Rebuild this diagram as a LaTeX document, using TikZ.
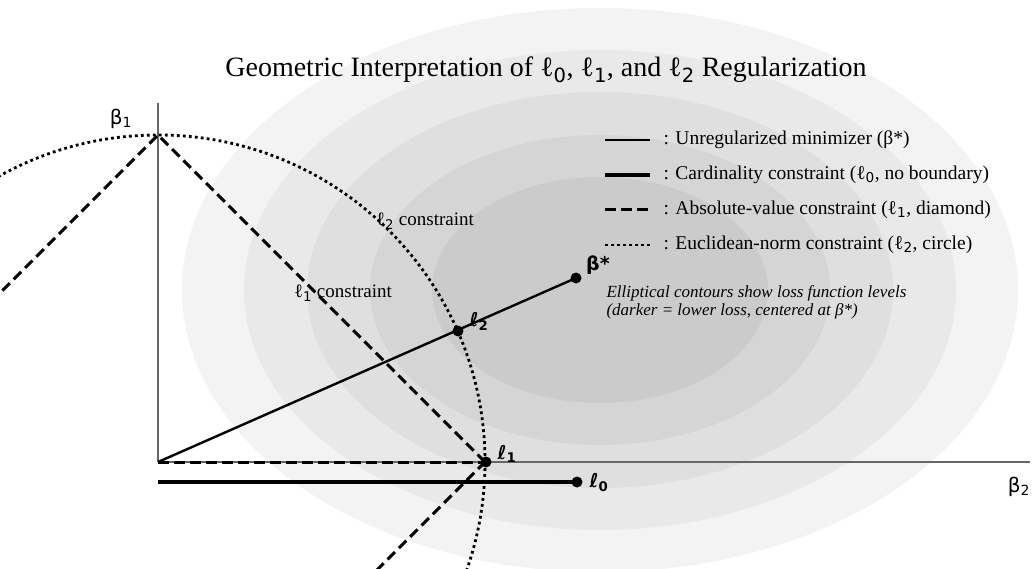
\documentclass[tikz,border=0pt]{standalone}
\usepackage{fontspec}
\setmainfont{Liberation Serif}
\newfontfamily\dejavu{DejaVu Sans}
\newcommand\lsub[1]{\textsubscript{\dejavu #1}}
\definecolor{ringa}{HTML}{F3F3F3}
\definecolor{ringb}{HTML}{E9E9E9}
\definecolor{ringc}{HTML}{DFDFDF}
\definecolor{ringd}{HTML}{D5D5D5}
\definecolor{ringe}{HTML}{CBCBCB}
\definecolor{axisgray}{HTML}{666666}
\begin{document}
\begin{tikzpicture}[x=1pt, y=-1pt,
  axisline/.style={draw=axisgray, line width=1.8pt},
  pathline/.style={draw=black, line width=2.4pt},
  zeroline/.style={draw=black, line width=3.2pt},
  diamondline/.style={draw=black, line width=3pt, dash pattern=on 10.5pt off 5.5pt},
  circleline/.style={draw=black, line width=2.8pt, dash pattern=on 2.8pt off 3.2pt},
  dotnode/.style={circle, fill=black, inner sep=0pt, minimum size=11pt},
  ptlabel/.style={font=\dejavu\bfseries\fontsize{19}{22}\selectfont},
  axlabel/.style={font=\dejavu\fontsize{20}{23}\selectfont},
  legtext/.style={anchor=west, font=\fontsize{19.5}{23}\selectfont},
  note/.style={anchor=west, align=left, font=\itshape\fontsize{17}{19}\selectfont}]
\useasboundingbox (0,0) rectangle (1034,569);
\clip (0,0) rectangle (1034,569);
\fill[ringa] (600,290) ellipse [x radius=418pt, y radius=282pt];
\fill[ringb] (600,290) ellipse [x radius=356pt, y radius=240pt];
\fill[ringc] (600,290) ellipse [x radius=293pt, y radius=198pt];
\fill[ringd] (600,290) ellipse [x radius=230pt, y radius=155pt];
\fill[ringe] (600,290) ellipse [x radius=168pt, y radius=113pt];
\node[font=\fontsize{28}{31}\selectfont] (title) at (546,70) {Geometric Interpretation of ℓ\lsub{0}, ℓ\lsub{1}, and ℓ\lsub{2} Regularization};
\coordinate (origin) at (158,462);
\coordinate (ytop) at (158,103);
\coordinate (xend) at (1030,462);
\coordinate (zerostart) at (158,482);
\draw[axisline] (origin) -- (ytop);
\draw[axisline] (origin) -- (xend);
\node[axlabel] (b1) at (121,119) {β\textsubscript{1}};
\node[axlabel] (b2) at (1019,487) {β\textsubscript{2}};
\draw[circleline] (origin) circle [radius=327pt];
\draw[diamondline] (485,462) -- (158,135) -- (-169,462) -- (158,789) -- cycle;
\node[dotnode] (bstar) at (576,278) {};
\node[dotnode] (ltwo) at (458,331) {};
\node[dotnode] (lone) at (486,462) {};
\node[dotnode] (lzero) at (577,482) {};
\draw[pathline] (origin) -- (bstar.center);
\draw[diamondline] (origin) -- (lone.center);
\draw[zeroline] (zerostart) -- (lzero.center);
\node[ptlabel] at (598,265) {β*};
\node[ptlabel] at (479,321) {ℓ\textsubscript{2}};
\node[ptlabel] at (507,454) {ℓ\textsubscript{1}};
\node[ptlabel] at (599,483) {ℓ\textsubscript{0}};
\node[font=\fontsize{19}{22}\selectfont] (ctwo) at (425,221) {ℓ\lsub{2} constraint};
\node[font=\fontsize{19}{22}\selectfont] (cone) at (343,293) {ℓ\lsub{1} constraint};
\draw[black, line width=2pt] (605,140) -- (650,140);
\draw[zeroline] (605,175) -- (650,175);
\draw[diamondline] (605,210) -- (650,210);
\draw[circleline] (605,245) -- (650,245);
\node[legtext] (leg1) at (660,140) {: Unregularized minimizer (β*)};
\node[legtext] (leg2) at (660,175) {: Cardinality constraint (ℓ\lsub{0}, no boundary)};
\node[legtext] (leg3) at (660,210) {: Absolute-value constraint (ℓ\lsub{1}, diamond)};
\node[legtext] (leg4) at (660,245) {: Euclidean-norm constraint (ℓ\lsub{2}, circle)};
\node[note] (expl) at (603,302) {Elliptical contours show loss function levels\\[-1pt](darker = lower loss, centered at β*)};
\end{tikzpicture}
\end{document}
